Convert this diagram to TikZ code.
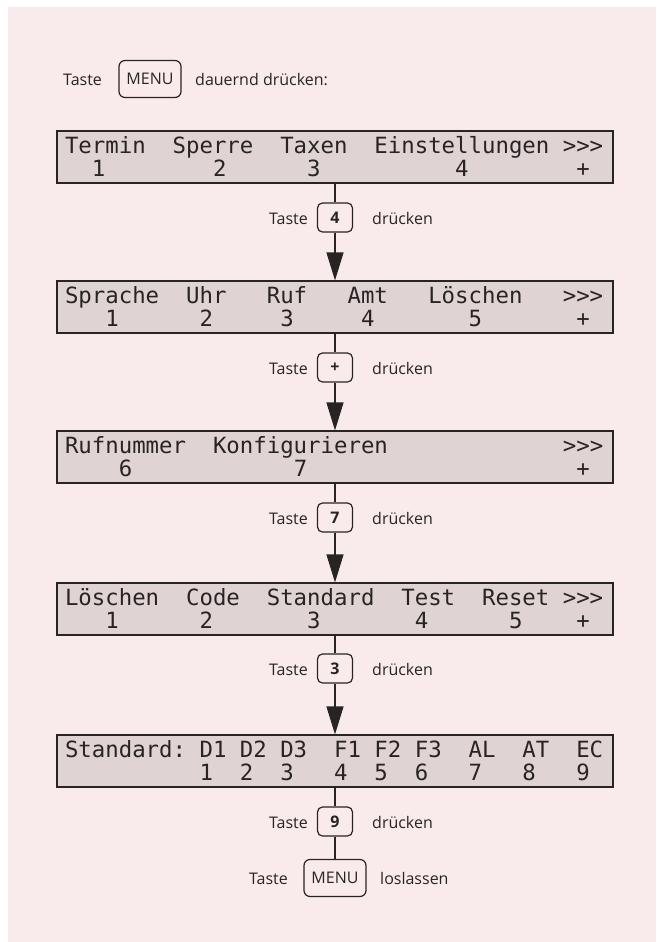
\documentclass[tikz,border=0pt]{standalone}
\usepackage{fontspec}
\setmainfont{Open Sans}
\newfontfamily\lcd{DejaVu Sans Mono}
\usetikzlibrary{arrows.meta}
\definecolor{bgpink}{RGB}{249,235,235}
\definecolor{lcdfill}{RGB}{224,211,211}
\definecolor{ink}{RGB}{40,36,36}
\newcommand\lcdblank{\hphantom{0}}
\newcommand\lcdsetup{\lcd\fontsize{22.35}{23}\selectfont\let~\lcdblank}
\begin{document}
\begin{tikzpicture}[x=1pt,y=-1pt,
  lcdbox/.style={draw=ink, line width=1.2pt, fill=lcdfill, text=ink,
    font=\lcdsetup, text width=540pt,
    inner xsep=8pt, inner ysep=0pt, minimum height=52pt, align=left},
  keybox/.style={draw=ink, line width=1.2pt, rounded corners=5pt,
    minimum width=35pt, minimum height=29pt, inner sep=0pt,
    font=\fontsize{16}{18}\selectfont\bfseries, text=ink},
  menubox/.style={draw=ink, line width=1.2pt, rounded corners=6pt,
    minimum width=62pt, minimum height=37pt, inner sep=0pt,
    font=\fontsize{16}{18}\selectfont, text=ink},
  lbl/.style={font=\fontsize{16}{18}\selectfont, text=ink, inner sep=0pt},
  conn/.style={draw=ink, line width=1.2pt},
  arr/.style={conn, -{Triangle[width=17pt,length=28pt]}}
]
\fill[white] (0,0) rectangle (656,942);
\fill[bgpink] (8,7) rectangle (656,942);
\useasboundingbox (0,0) rectangle (656,942);

% top instruction
\node[lbl, anchor=base west] (t0a) at (63,85) {Taste};
\node[menubox] (m0) at (150,79) {MENU};
\node[lbl, anchor=base west] (t0b) at (195,85) {dauernd drücken:};

% displays
\node[lcdbox] (d1) at (335,157) {Termin~~Sperre~~Taxen~~Einstellungen~>>>\\~~1~~~~~~~~2~~~~~~3~~~~~~~~~~4~~~~~~~~+};
\node[lcdbox] (d2) at (335,307) {Sprache~~Uhr~~~Ruf~~~Amt~~~Löschen~~~>>>\\~~~1~~~~~~2~~~~~3~~~~~4~~~~~~~5~~~~~~~+};
\node[lcdbox] (d3) at (335,457) {Rufnummer~~Konfigurieren~~~~~~~~~~~~~>>>\\~~~~6~~~~~~~~~~~~7~~~~~~~~~~~~~~~~~~~~+};
\node[lcdbox] (d4) at (335,609) {Löschen~~Code~~Standard~~Test~~Reset~>>>\\~~~1~~~~~~2~~~~~~~3~~~~~~~4~~~~~~5~~~~+};
\node[lcdbox] (d5) at (335,761) {Standard:~D1~D2~D3~~F1~F2~F3~~AL~~AT~~EC\\~~~~~~~~~~1~~2~~3~~~4~~5~~6~~~7~~~8~~~9};

% key rows
\node[keybox] (k1) at (335,217.5) {4};
\node[lbl, anchor=base east] (k1a) at (308,224.5) {Taste};
\node[lbl, anchor=base west] (k1b) at (372,224.5) {drücken};

\node[keybox] (k2) at (335,367.5) {+};
\node[lbl, anchor=base east] (k2a) at (308,374.5) {Taste};
\node[lbl, anchor=base west] (k2b) at (372,374.5) {drücken};

\node[keybox] (k3) at (335,517.5) {7};
\node[lbl, anchor=base east] (k3a) at (308,524.5) {Taste};
\node[lbl, anchor=base west] (k3b) at (372,524.5) {drücken};

\node[keybox] (k4) at (335,668.5) {3};
\node[lbl, anchor=base east] (k4a) at (308,675.5) {Taste};
\node[lbl, anchor=base west] (k4b) at (372,675.5) {drücken};

\node[keybox] (k5) at (335,821.5) {9};
\node[lbl, anchor=base east] (k5a) at (308,828.5) {Taste};
\node[lbl, anchor=base west] (k5b) at (372,828.5) {drücken};

\node[menubox] (m1) at (335,878) {MENU};
\node[lbl, anchor=base east] (m1a) at (288,884) {Taste};
\node[lbl, anchor=base west] (m1b) at (380,884) {loslassen};

% connectors
\draw[conn] (d1.south) -- (k1.north);
\draw[arr] (k1.south) -- (d2.north);
\draw[conn] (d2.south) -- (k2.north);
\draw[arr] (k2.south) -- (d3.north);
\draw[conn] (d3.south) -- (k3.north);
\draw[arr] (k3.south) -- (d4.north);
\draw[conn] (d4.south) -- (k4.north);
\draw[arr] (k4.south) -- (d5.north);
\draw[conn] (d5.south) -- (k5.north);
\draw[conn] (k5.south) -- (m1.north);
\end{tikzpicture}
\end{document}
